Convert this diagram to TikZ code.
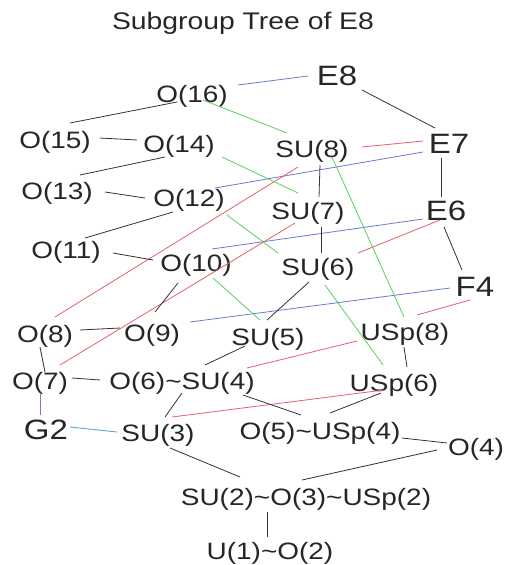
\documentclass[tikz,border=0pt]{standalone}
\usepackage{fontspec}
\setmainfont{Liberation Sans}[FakeStretch=1.18]
\usetikzlibrary{calc}
\definecolor{eblack}{rgb}{0.2,0.2,0.2}
\definecolor{eblue}{rgb}{0.42,0.48,0.82}
\definecolor{ered}{rgb}{0.9,0.38,0.42}
\definecolor{egreen}{rgb}{0.35,0.82,0.35}
\definecolor{epurple}{rgb}{0.62,0.42,0.72}
\definecolor{eteal}{rgb}{0.35,0.68,0.8}
\tikzset{
  lbl/.style={font=\fontsize{23.7}{28}\selectfont, inner sep=0pt, text height=17pt, text depth=0pt, text=black!85},
  big/.style={font=\fontsize{28}{32}\selectfont, inner sep=0pt, text height=20pt, text depth=0pt, text=black!85},
  ttl/.style={font=\fontsize{24}{28}\selectfont, inner sep=0pt, text height=17pt, text depth=0pt, text=black!85},
  bl/.style={draw=eblack, line width=0.8pt},
  bu/.style={draw=eblue, line width=0.8pt},
  rd/.style={draw=ered, line width=0.8pt},
  gr/.style={draw=egreen, line width=0.8pt},
  pu/.style={draw=epurple, line width=0.9pt},
  te/.style={draw=eteal, line width=0.9pt},
}
\begin{document}
\begin{tikzpicture}[x=1pt,y=-1pt]
\useasboundingbox[fill=white] (0,0) rectangle (507,565);
\node[ttl] (title) at (243,21) {Subgroup Tree of E8};
\node[big] (E8) at (337,75) {E8};
\node[lbl] (O16) at (192,94) {O(16)};
\node[lbl] (O15) at (55,140) {O(15)};
\node[lbl] (O14) at (179,144) {O(14)};
\node[lbl] (SU8) at (312,149) {SU(8)};
\node[big] (E7) at (449,143) {E7};
\node[lbl] (O13) at (57,191) {O(13)};
\node[lbl] (O12) at (189,198) {O(12)};
\node[lbl] (SU7) at (308,211) {SU(7)};
\node[big] (E6) at (446,210) {E6};
\node[lbl] (O11) at (66,250) {O(11)};
\node[lbl] (O10) at (196,263) {O(10)};
\node[lbl] (SU6) at (318,267) {SU(6)};
\node[big] (F4) at (475,286) {F4};
\node[lbl] (O8) at (45,334) {O(8)};
\node[lbl] (O9) at (152,333) {O(9)};
\node[lbl] (SU5) at (268,337) {SU(5)};
\node[lbl] (USp8) at (405,332) {USp(8)};
\node[lbl] (O7) at (40,381) {O(7)};
\node[lbl] (O6SU4) at (182,381) {O(6)\textasciitilde SU(4)};
\node[lbl] (USp6) at (394,383) {USp(6)};
\node[big] (G2) at (46,429) {G2};
\node[lbl] (SU3) at (158,433) {SU(3)};
\node[lbl] (O5USp4) at (320,431) {O(5)\textasciitilde USp(4)};
\node[lbl] (O4) at (476,447) {O(4)};
\node[lbl] (SU2) at (306,497) {SU(2)\textasciitilde O(3)\textasciitilde USp(2)};
\node[lbl] (U1) at (270,551) {U(1)\textasciitilde O(2)};
% blue
\draw[bu] ($(O16)+(46,-9)$) -- ($(E8)+(-29,1)$);
\draw[bu] ($(O12)+(26,-10)$) -- ($(E7)+(-26,9)$);
\draw[bu] ($(O10)+(16,-14)$) -- ($(E6)+(-23,9)$);
\draw[bu] ($(O9)+(38,-11)$) -- ($(F4)+(-25,2)$);
% red
\draw[rd] ($(SU8)+(50,-2)$) -- ($(E7)+(-26,-2)$);
\draw[rd] ($(SU8)+(-14,18)$) -- ($(O8)+(10,-17)$);
\draw[rd] ($(SU7)+(-13,12)$) -- ($(O7)+(20,-16)$);
\draw[rd] ($(SU6)+(40,-14)$) -- ($(E6)+(-6,10)$);
\draw[rd] ($(USp8)+(12,-17)$) -- ($(F4)+(-5,14)$);
\draw[rd] ($(USp8)+(-48,9)$) -- ($(O6SU4)+(65,-13)$);
\draw[rd] ($(USp6)+(-10,7)$) -- ($(SU3)+(14,-16)$);
% green
\draw[gr] ($(O16)+(11,6)$) -- ($(SU8)+(-25,-16)$);
\draw[gr] ($(O14)+(43,13)$) -- ($(SU7)+(-10,-18)$);
\draw[gr] ($(O12)+(38,17)$) -- ($(SU6)+(-40,-14)$);
\draw[gr] ($(O10)+(17,15)$) -- ($(SU5)+(-8,-17)$);
\draw[gr] ($(SU8)+(20,8)$) -- ($(USp8)+(-1,-15)$);
\draw[gr] ($(SU6)+(7,18)$) -- ($(USp6)+(-11,-18)$);
% black
\draw[bl] ($(E8)+(25,15)$) -- ($(E7)+(-14,-15)$);
\draw[bl] ($(E7)+(-8,15)$) -- ($(E6)+(-5,-13)$);
\draw[bl] ($(E6)+(-2,17)$) -- ($(F4)+(-13,-16)$);
\draw[bl] ($(O16)+(-15,8)$) -- ($(O15)+(15,-17)$);
\draw[bl] ($(O15)+(45,-2)$) -- ($(O14)+(-42,-4)$);
\draw[bl] ($(O14)+(-14,13)$) -- ($(O13)+(23,-16)$);
\draw[bl] ($(O13)+(48,1)$) -- ($(O12)+(-44,0)$);
\draw[bl] ($(O12)+(-16,14)$) -- ($(O11)+(19,-12)$);
\draw[bl] ($(O11)+(47,3)$) -- ($(O10)+(-43,-3)$);
\draw[bl] ($(O10)+(-18,20)$) -- ($(O9)+(3,-21)$);
\draw[bl] ($(O9)+(-32,-5)$) -- ($(O8)+(35,-4)$);
\draw[bl] ($(O8)+(-5,13)$) -- ($(O7)+(5,-9)$);
\draw[bl] ($(O7)+(32,-3)$) -- ($(O6SU4)+(-82,-1)$);
\draw[bl] ($(SU8)+(8,16)$) -- ($(SU7)+(11,-14)$);
\draw[bl] ($(SU7)+(13,16)$) -- ($(SU6)+(3,-14)$);
\draw[bl] ($(SU6)+(-9,15)$) -- ($(SU5)+(-1,-17)$);
\draw[bl] ($(SU5)+(-23,9)$) -- ($(O6SU4)+(23,-16)$);
\draw[bl] ($(O6SU4)+(0,12)$) -- ($(SU3)+(7,-16)$);
\draw[bl] ($(O6SU4)+(61,14)$) -- ($(O5USp4)+(-19,-16)$);
\draw[bl] ($(USp8)+(-1,15)$) -- ($(USp6)+(13,-16)$);
\draw[bl] ($(USp6)+(-13,10)$) -- ($(O5USp4)+(10,-18)$);
\draw[bl] ($(O5USp4)+(82,7)$) -- ($(O4)+(-29,-4)$);
\draw[bl] ($(O4)+(-39,3)$) -- ($(SU2)+(-4,-17)$);
\draw[bl] ($(SU3)+(12,15)$) -- ($(SU2)+(-66,-20)$);
\draw[bl] ($(SU2)+(-39,15)$) -- ($(U1)+(-3,-14)$);
\draw[pu] ($(O7)+(0,12)$) -- ($(G2)+(-6,-14)$);
\draw[te] ($(G2)+(24,-2)$) -- ($(SU3)+(-41,-1)$);
\end{tikzpicture}
\end{document}
